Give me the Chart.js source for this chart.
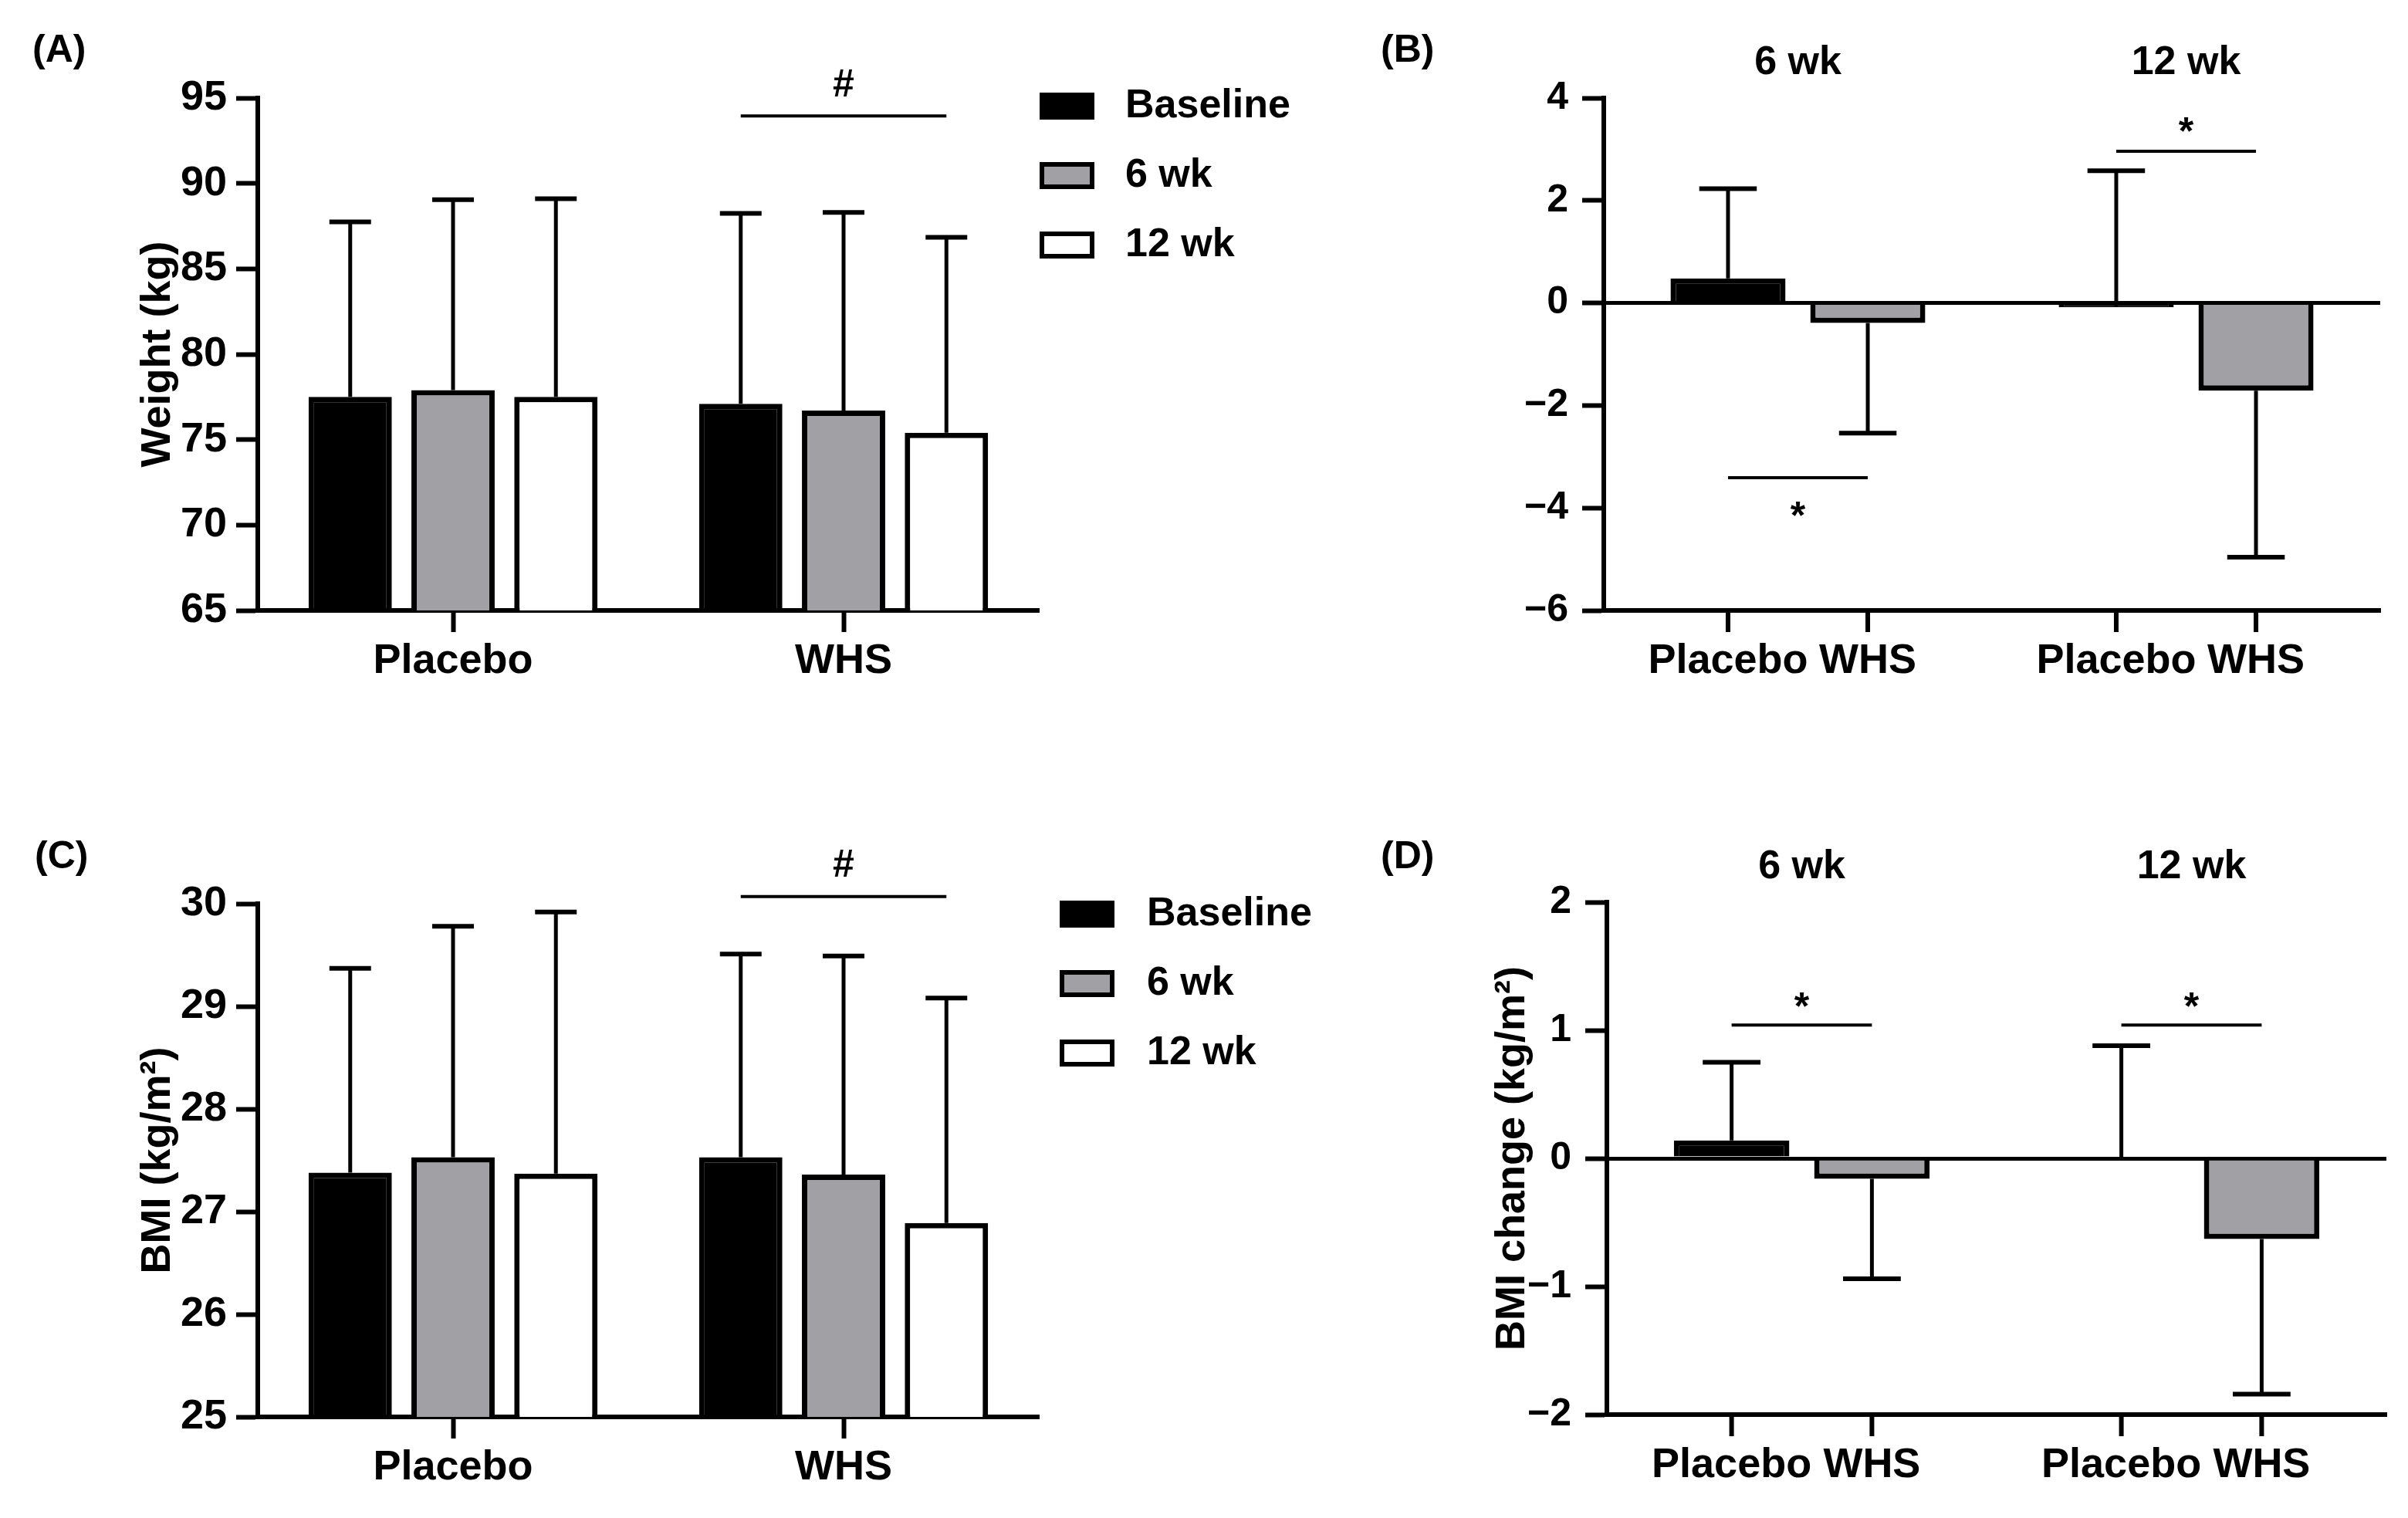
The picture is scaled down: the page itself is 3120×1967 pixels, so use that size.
<!DOCTYPE html>
<html>
<head>
<meta charset="utf-8">
<script src="https://cdn.jsdelivr.net/npm/chart.js@4.4.1/dist/chart.umd.min.js"></script>
<style>
  html, body { margin: 0; padding: 0; background: #fff; }
  body { width: 3120px; height: 1967px; position: relative; overflow: hidden; }
  canvas { position: absolute; }
</style>
</head>
<body>
<canvas id="chartA" width="1760" height="983" style="left:0;top:0"></canvas>
<canvas id="chartB" width="1360" height="983" style="left:1760px;top:0"></canvas>
<canvas id="chartC" width="1760" height="984" style="left:0;top:983px"></canvas>
<canvas id="chartD" width="1360" height="984" style="left:1760px;top:983px"></canvas>
<script>
// ---------- data ----------
const groups = ["Placebo", "WHS"];
const timepoints = ["Baseline", "6 wk", "12 wk"];
const periods = ["6 wk", "12 wk"];

// (A) body weight (kg): means and upper end of the SD bar
const weightBaseline = [77.5, 77.1];
const weight6wk = [77.9, 76.7];
const weight12wk = [77.5, 75.4];
const weightBaselineErr = [87.75, 88.25];
const weight6wkErr = [89.05, 88.3];
const weight12wkErr = [89.1, 86.85];
const weightRange = [65, 95];
const weightStep = 5;

// (B) weight change (kg) at 6 wk / 12 wk
const weightChangePlacebo = [0.48, -0.08];
const weightChangeWHS = [-0.39, -1.71];
const weightChangePlaceboErr = [2.23, 2.58];
const weightChangeWHSErr = [-2.54, -4.96];
const weightChangeRange = [-6, 4];
const weightChangeStep = 2;

// (C) BMI (kg/m2)
const bmiBaseline = [27.38, 27.53];
const bmi6wk = [27.53, 27.36];
const bmi12wk = [27.37, 26.89];
const bmiBaselineErr = [29.37, 29.51];
const bmi6wkErr = [29.78, 29.49];
const bmi12wkErr = [29.92, 29.08];
const bmiRange = [25, 30];
const bmiStep = 1;

// (D) BMI change (kg/m2)
const bmiChangePlacebo = [0.14, 0.0];
const bmiChangeWHS = [-0.16, -0.63];
const bmiChangePlaceboErr = [0.75, 0.88];
const bmiChangeWHSErr = [-0.94, -1.84];
const bmiChangeRange = [-2, 2];
const bmiChangeStep = 1;

// ---------- styles ----------
const FONT = "'Liberation Sans', Arial, Helvetica, sans-serif";
const NARROW = "'Liberation Sans Narrow', 'Arial Narrow', 'Liberation Sans', Arial, sans-serif";
const BLACK = "#000000";
const GRAY = "#a1a1a5";
const WHITE = "#ffffff";

function bold(size, family) {
  return { family: family || FONT, size: size, weight: "bold" };
}

function minusSign(v) {
  return v < 0 ? "\u2212" + Math.abs(v) : String(v);
}

// error bars, brackets, legend, labels
const decor = {
  id: "decor",
  afterDatasetsDraw(chart) {
    const ctx = chart.ctx;
    const y = chart.scales.y;
    ctx.save();
    ctx.strokeStyle = BLACK;
    chart.data.datasets.forEach((ds, i) => {
      chart.getDatasetMeta(i).data.forEach((bar, j) => {
        const yEnd = y.getPixelForValue(ds.errorEnds[j]);
        const half = bar.width / 4;
        ctx.lineWidth = 5;
        ctx.beginPath();
        ctx.moveTo(bar.x, bar.y);
        ctx.lineTo(bar.x, yEnd);
        ctx.stroke();
        ctx.lineWidth = 6;
        ctx.beginPath();
        ctx.moveTo(bar.x - half, yEnd);
        ctx.lineTo(bar.x + half, yEnd);
        ctx.stroke();
      });
    });
    ctx.restore();
  },
  afterDraw(chart, args, opts) {
    const ctx = chart.ctx;
    const y = chart.scales.y;
    const area = chart.chartArea;
    ctx.save();
    ctx.fillStyle = BLACK;
    ctx.strokeStyle = BLACK;

    // significance brackets
    (opts.sig || []).forEach(s => {
      const x1 = chart.getDatasetMeta(s.from[0]).data[s.from[1]].x;
      const x2 = chart.getDatasetMeta(s.to[0]).data[s.to[1]].x;
      const yy = y.getPixelForValue(s.y);
      ctx.lineWidth = 4;
      ctx.beginPath();
      ctx.moveTo(x1, yy);
      ctx.lineTo(x2, yy);
      ctx.stroke();
      ctx.font = "bold 50px " + FONT;
      ctx.textAlign = "center";
      ctx.textBaseline = "middle";
      ctx.fillText(s.text, (x1 + x2) / 2, y.getPixelForValue(s.textY));
    });

    // per-bar ticks and labels (change panels)
    if (opts.barTicks) {
      ctx.font = "bold 54px " + FONT;
      ctx.textAlign = "center";
      ctx.textBaseline = "middle";
      chart.data.datasets.forEach((ds, i) => {
        chart.getDatasetMeta(i).data.forEach(bar => {
          ctx.lineWidth = 6;
          ctx.beginPath();
          ctx.moveTo(bar.x, area.bottom);
          ctx.lineTo(bar.x, area.bottom + 28);
          ctx.stroke();
          ctx.fillText(ds.label, bar.x, area.bottom + 66);
        });
      });
    }

    // period titles above change panels
    if (opts.groupTitles) {
      ctx.font = "bold 52px " + FONT;
      ctx.textAlign = "center";
      ctx.textBaseline = "middle";
      chart.data.labels.forEach((lab, k) => {
        ctx.fillText(lab, chart.scales.x.getPixelForValue(k), area.top - 45);
      });
    }

    // legend
    if (opts.legend) {
      const L = opts.legend;
      ctx.font = "bold 52px " + FONT;
      ctx.textAlign = "left";
      ctx.textBaseline = "middle";
      chart.data.datasets.forEach((ds, i) => {
        const top = L.y + i * L.gap;
        ctx.fillStyle = ds.backgroundColor;
        ctx.fillRect(L.x, top, 71, 35);
        ctx.lineWidth = 6;
        ctx.strokeStyle = BLACK;
        ctx.strokeRect(L.x + 3, top + 3, 65, 29);
        ctx.fillStyle = BLACK;
        ctx.fillText(ds.label, L.x + L.textOffset, top + 18);
      });
    }

    // panel letter
    if (opts.panel) {
      ctx.font = "bold 50px " + FONT;
      ctx.textAlign = "left";
      ctx.textBaseline = "alphabetic";
      ctx.fillStyle = BLACK;
      ctx.fillText(opts.panel.text, opts.panel.x, opts.panel.y);
    }
    ctx.restore();
  }
};

function makeOptions(cfg) {
  const changePanel = !!cfg.change;
  return {
    responsive: false,
    devicePixelRatio: 1,
    animation: false,
    layout: { padding: cfg.padding },
    plugins: {
      legend: { display: false },
      tooltip: { enabled: false },
      decor: cfg.decor
    },
    scales: {
      x: {
        grid: {
          display: !changePanel,
          drawOnChartArea: false,
          offset: false,
          color: BLACK,
          tickColor: BLACK,
          tickLength: 28,
          tickWidth: 6
        },
        border: { display: true, color: BLACK, width: 6 },
        ticks: { display: !changePanel, color: BLACK, font: bold(54), padding: 6, maxRotation: 0 },
        afterFit: s => { s.height = 120; }
      },
      y: {
        min: cfg.range[0],
        max: cfg.range[1],
        ticks: {
          stepSize: cfg.step,
          color: BLACK,
          font: changePanel ? bold(50) : bold(54, NARROW),
          padding: changePanel ? 18 : 12,
          callback: minusSign
        },
        grid: {
          drawOnChartArea: changePanel,
          color: c => (c.tick && c.tick.value === 0 ? BLACK : "rgba(0,0,0,0)"),
          tickColor: BLACK,
          tickLength: 28,
          tickWidth: 6,
          lineWidth: 5
        },
        border: { display: true, color: BLACK, width: 6 },
        title: {
          display: !!cfg.yTitle,
          text: cfg.yTitle || "",
          color: BLACK,
          font: bold(54),
          padding: { top: cfg.titlePad || 0, bottom: 0 }
        },
        afterFit: s => { s.width = cfg.yWidth; }
      }
    }
  };
}

function timeDatasets(base, w6, w12, baseErr, w6Err, w12Err) {
  const common = { borderColor: BLACK, borderWidth: 7, categoryPercentage: 0.79, barPercentage: 0.81 };
  return [
    Object.assign({ label: timepoints[0], data: base, errorEnds: baseErr, backgroundColor: BLACK }, common),
    Object.assign({ label: timepoints[1], data: w6, errorEnds: w6Err, backgroundColor: GRAY }, common),
    Object.assign({ label: timepoints[2], data: w12, errorEnds: w12Err, backgroundColor: WHITE }, common)
  ];
}

function changeDatasets(placebo, whs, placeboErr, whsErr) {
  const common = { borderColor: BLACK, borderWidth: 7, categoryPercentage: 0.72, barPercentage: 0.823 };
  return [
    Object.assign({ label: groups[0], data: placebo, errorEnds: placeboErr, backgroundColor: BLACK }, common),
    Object.assign({ label: groups[1], data: whs, errorEnds: whsErr, backgroundColor: GRAY }, common)
  ];
}

// (A)
new Chart(document.getElementById("chartA"), {
  type: "bar",
  data: {
    labels: groups,
    datasets: timeDatasets(weightBaseline, weight6wk, weight12wk, weightBaselineErr, weight6wkErr, weight12wkErr)
  },
  options: makeOptions({
    padding: { left: 0, top: 127, right: 414, bottom: 72 },
    yWidth: 334,
    range: weightRange,
    step: weightStep,
    yTitle: "Weight (kg)",
    titlePad: 173,
    decor: {
      sig: [{ from: [0, 1], to: [2, 1], y: 93.95, text: "#", textY: 95.7 }],
      legend: { x: 1347, y: 120, gap: 90, textOffset: 111 },
      panel: { text: "(A)", x: 42, y: 80 }
    }
  }),
  plugins: [decor]
});

// (B)
new Chart(document.getElementById("chartB"), {
  type: "bar",
  data: {
    labels: periods,
    datasets: changeDatasets(weightChangePlacebo, weightChangeWHS, weightChangePlaceboErr, weightChangeWHSErr)
  },
  options: makeOptions({
    change: true,
    padding: { left: 0, top: 127, right: 36, bottom: 72 },
    yWidth: 318,
    range: weightChangeRange,
    step: weightChangeStep,
    decor: {
      sig: [
        { from: [0, 0], to: [1, 0], y: -3.41, text: "*", textY: -4.2 },
        { from: [0, 1], to: [1, 1], y: 2.96, text: "*", textY: 3.31 }
      ],
      barTicks: true,
      groupTitles: true,
      panel: { text: "(B)", x: 29, y: 80 }
    }
  }),
  plugins: [decor]
});

// (C)
new Chart(document.getElementById("chartC"), {
  type: "bar",
  data: {
    labels: groups,
    datasets: timeDatasets(bmiBaseline, bmi6wk, bmi12wk, bmiBaselineErr, bmi6wkErr, bmi12wkErr)
  },
  options: makeOptions({
    padding: { left: 0, top: 188, right: 414, bottom: 11 },
    yWidth: 334,
    range: bmiRange,
    step: bmiStep,
    yTitle: "BMI (kg/m\u00b2)",
    titlePad: 173,
    decor: {
      sig: [{ from: [0, 1], to: [2, 1], y: 30.07, text: "#", textY: 30.37 }],
      legend: { x: 1373, y: 184, gap: 90, textOffset: 113 },
      panel: { text: "(C)", x: 45, y: 142 }
    }
  }),
  plugins: [decor]
});

// (D)
new Chart(document.getElementById("chartD"), {
  type: "bar",
  data: {
    labels: periods,
    datasets: changeDatasets(bmiChangePlacebo, bmiChangeWHS, bmiChangePlaceboErr, bmiChangeWHSErr)
  },
  options: makeOptions({
    change: true,
    padding: { left: 0, top: 186, right: 28, bottom: 14 },
    yWidth: 322,
    range: bmiChangeRange,
    step: bmiChangeStep,
    yTitle: "BMI change (kg/m\u00b2)",
    titlePad: 168,
    decor: {
      sig: [
        { from: [0, 0], to: [1, 0], y: 1.04, text: "*", textY: 1.17 },
        { from: [0, 1], to: [1, 1], y: 1.04, text: "*", textY: 1.17 }
      ],
      barTicks: true,
      groupTitles: true,
      panel: { text: "(D)", x: 29, y: 142 }
    }
  }),
  plugins: [decor]
});
</script>
</body>
</html>
